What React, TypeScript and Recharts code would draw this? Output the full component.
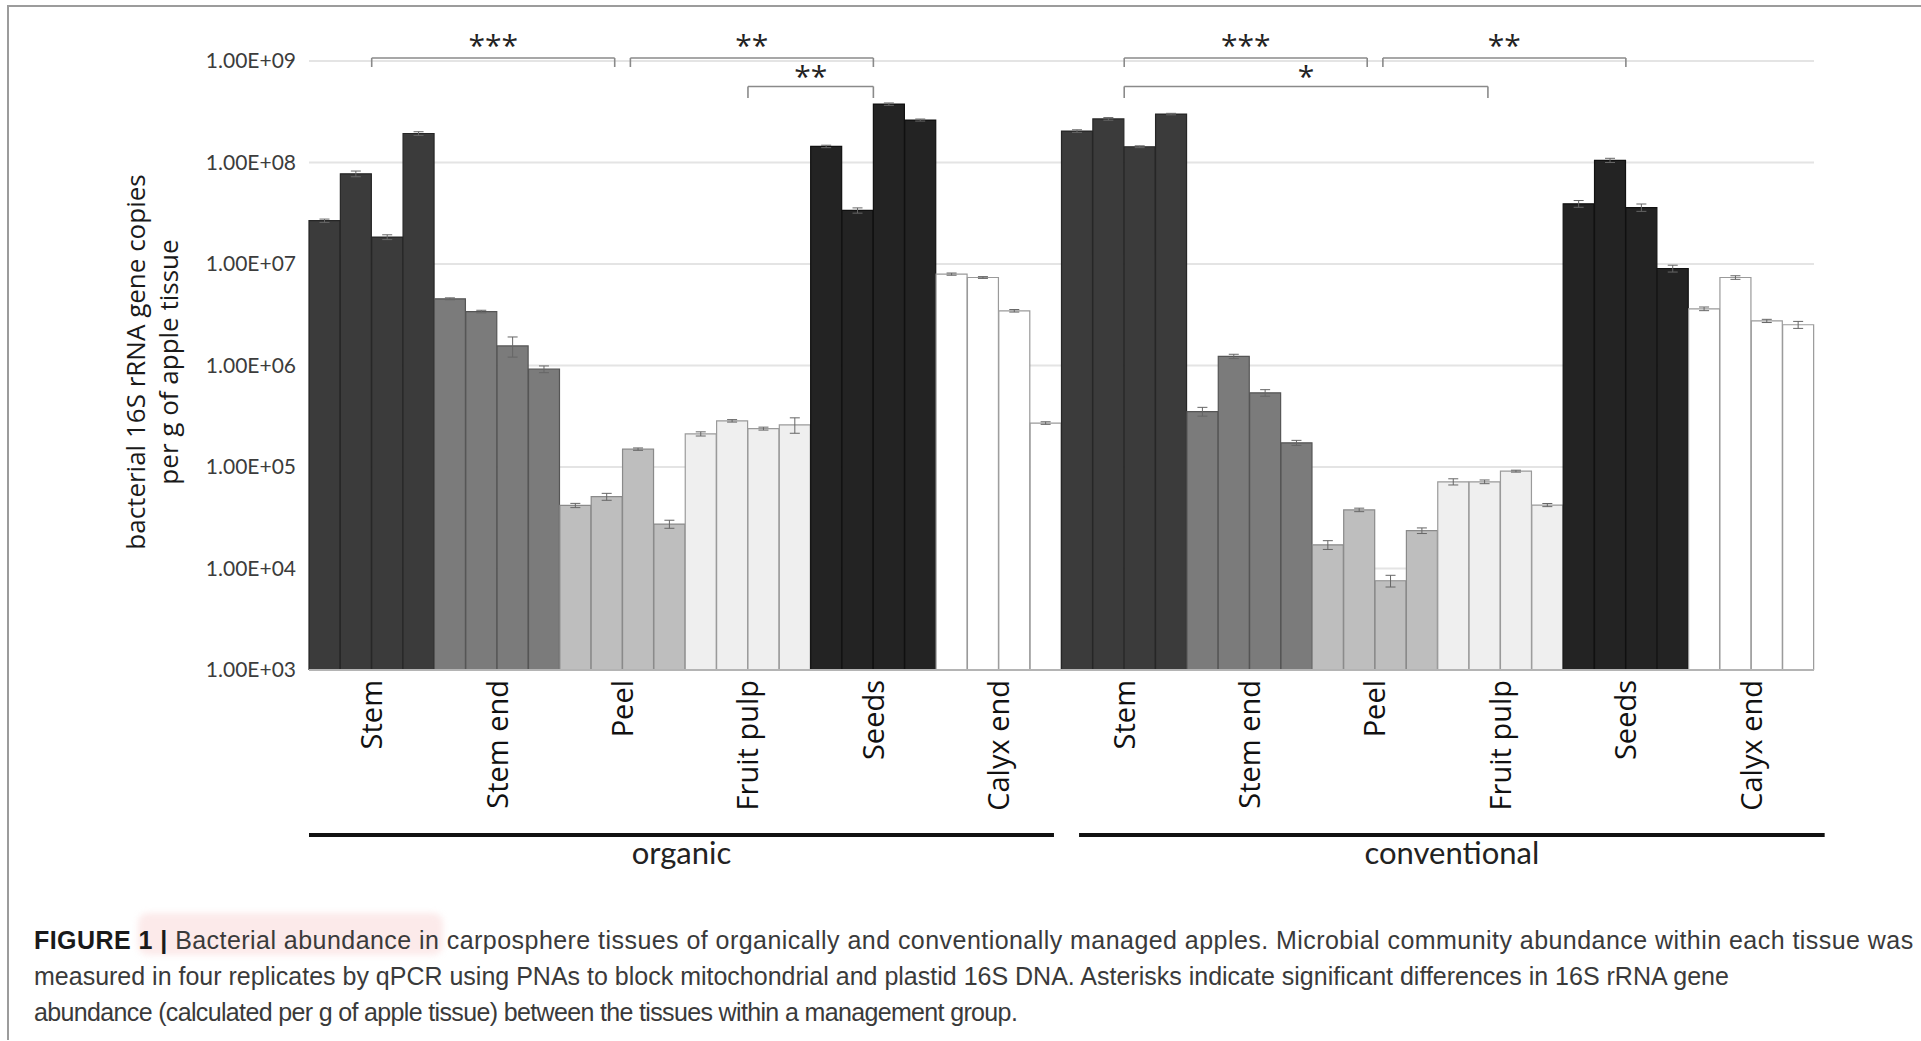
import React from 'react'
import { Bar, BarChart, CartesianGrid, Cell, ErrorBar, ReferenceLine, XAxis, YAxis } from 'recharts'

const tissues = ['Stem', 'Stem end', 'Peel', 'Fruit pulp', 'Seeds', 'Calyx end']
const groups = ['organic', 'conventional']

// 16S copies per g, four replicates per tissue (tissue order as above)
const organicCopies = [
  2.67e7, 7.74e7, 1.84e7, 1.93e8,
  4.54e6, 3.4e6, 1.56e6, 9.2e5,
  4.18e4, 5.1e4, 1.5e5, 2.74e4,
  2.12e5, 2.85e5, 2.39e5, 2.6e5,
  1.44e8, 3.37e7, 3.76e8, 2.62e8,
  7.95e6, 7.36e6, 3.46e6, 2.71e5,
]
const organicErr = [
  1e6, 5e6, 1e6, 8e6,
  1e5, 1e5, 3.5e5, 7e4,
  2e3, 4e3, 4e3, 2.5e3,
  1e4, 8e3, 8e3, 4.5e4,
  4e6, 2e6, 1e7, 6e6,
  2e5, 1.5e5, 1e5, 8e3,
]
const conventionalCopies = [
  2.04e8, 2.69e8, 1.43e8, 3.0e8,
  3.52e5, 1.23e6, 5.38e5, 1.73e5,
  1.71e4, 3.78e4, 7.57e3, 2.36e4,
  7.15e4, 7.15e4, 9.1e4, 4.22e4,
  3.92e7, 1.05e8, 3.6e7, 9.03e6,
  3.62e6, 7.36e6, 2.75e6, 2.52e6,
]
const conventionalErr = [
  6e6, 8e6, 3e6, 5e6,
  3.5e4, 6e4, 4e4, 1e4,
  1.7e3, 1.5e3, 1e3, 1.5e3,
  5e3, 3e3, 2e3, 1.5e3,
  3e6, 5e6, 3e6, 7e5,
  1.5e5, 3e5, 1e5, 2e5,
]

const yTicks = [1e3, 1e4, 1e5, 1e6, 1e7, 1e8, 1e9]

// significance brackets, x in bar units (4 bars per tissue, 24 per group)
const brackets = [
  { from: 2, to: 9.75, label: '***', level: 0 },
  { from: 10.25, to: 18, label: '**', level: 0 },
  { from: 14, to: 18, label: '**', level: 1 },
  { from: 26, to: 33.75, label: '***', level: 0 },
  { from: 34.25, to: 42, label: '**', level: 0 },
  { from: 26, to: 37.6, label: '*', level: 1 },
]
const groupSpans = [
  [0, 23.76],
  [24.56, 48.34],
]

const fills = ['#3b3b3b', '#7b7b7b', '#bebebe', '#efefef', '#232323', '#ffffff']
const strokes = ['#262626', '#555555', '#8a8a8a', '#9a9a9a', '#111111', '#9a9a9a']

const REPS = 4
const PER_GROUP = tissues.length * REPS
const BRACKET_Y = [1.07e9, 5.61e8]
const BRACKET_DROP = [8.73e8, 4.32e8]
const BRACKET_LABEL_OFFSET = [2, -1]
const GROUP_LINE_Y = 23.7

const data = [organicCopies, conventionalCopies].flatMap((vals, g) =>
  vals.map((v, i) => ({
    pos: g * PER_GROUP + i + 0.5,
    value: v,
    err: (g === 0 ? organicErr : conventionalErr)[i],
    tissue: Math.floor(i / REPS),
  }))
)

const tissueTicks = groups.flatMap((_, g) => tissues.map((_, t) => g * PER_GROUP + t * REPS + REPS / 2))

const sci = (v: number) => {
  const e = Math.round(Math.log10(v))
  return `${(v / Math.pow(10, e)).toFixed(2)}E+${String(e).padStart(2, '0')}`
}

function TissueTick(props: any) {
  const { x, y, payload } = props
  const name = tissues[Math.round((payload.value - REPS / 2) / REPS) % tissues.length]
  return (
    <text
      x={x}
      y={y}
      transform={`rotate(-90, ${x}, ${y})`}
      textAnchor="end"
      dy="0.36em"
      fontSize={29}
      fontFamily="'Open Sans', sans-serif"
      fill="#111"
    >
      {name}
    </text>
  )
}

function YTitle() {
  return (
    <text transform="rotate(-90)" textAnchor="middle" fontSize={26} fontFamily="'Open Sans', sans-serif" fill="#1a1a1a">
      <tspan x={-362} y={145}>bacterial 16S rRNA gene copies</tspan>
      <tspan x={-362} y={178}>per g of apple tissue</tspan>
    </text>
  )
}

export default function App() {
  return (
    <div
      style={{
        position: 'absolute',
        left: 0,
        top: 0,
        width: 1921,
        height: 1041,
        background: '#fff',
        overflow: 'hidden',
      }}
    >
      <div
        style={{
          position: 'absolute',
          left: 7,
          top: 5,
          width: 1914,
          height: 1033,
          borderTop: '2px solid #9c9c9c',
          borderLeft: '2px solid #9c9c9c',
        }}
      />
      <div style={{ position: 'absolute', left: 0, top: 0 }}>
        <BarChart
          width={1921}
          height={900}
          data={data}
          margin={{ top: 61, right: 107, bottom: 0, left: 209 }}
          barCategoryGap={0}
          barGap={0}
        >
          <CartesianGrid vertical={false} stroke="#e4e4e4" strokeWidth={2} />
          <XAxis
            dataKey="pos"
            type="number"
            domain={[0, 48]}
            ticks={tissueTicks}
            interval={0}
            tickLine={false}
            tickMargin={4}
            axisLine={{ stroke: '#b4b4b4', strokeWidth: 2 }}
            height={230}
            tick={(p: any) => <TissueTick {...p} />}
          />
          <YAxis
            scale="log"
            domain={[1e3, 1e9]}
            allowDataOverflow
            ticks={yTicks}
            width={100}
            axisLine={false}
            tickLine={false}
            tickMargin={7}
            tickFormatter={sci}
            tick={{ fontSize: 21, fill: '#3c3c3c', fontFamily: 'Lato, sans-serif' }}
            label={{ content: () => <YTitle /> }}
          />
          <Bar dataKey="value" isAnimationActive={false} strokeWidth={1.2}>
            {data.map((d, i) => (
              <Cell key={i} fill={fills[d.tissue]} stroke={strokes[d.tissue]} />
            ))}
            <ErrorBar dataKey="err" width={5} stroke="#666" strokeWidth={1} direction="y" />
          </Bar>
          {brackets.flatMap((b, i) => [
            <ReferenceLine
              key={`bh${i}`}
              ifOverflow="visible"
              stroke="#8a8a8a"
              strokeWidth={1.6}
              segment={[
                { x: b.from, y: BRACKET_Y[b.level] },
                { x: b.to, y: BRACKET_Y[b.level] },
              ]}
              label={{
                value: b.label,
                position: 'top',
                offset: BRACKET_LABEL_OFFSET[b.level],
                fontSize: 30,
                fill: '#222',
                fontFamily: "'Open Sans', sans-serif",
              }}
            />,
            <ReferenceLine
              key={`bl${i}`}
              ifOverflow="visible"
              stroke="#8a8a8a"
              strokeWidth={1.6}
              segment={[
                { x: b.from, y: BRACKET_Y[b.level] },
                { x: b.from, y: BRACKET_DROP[b.level] },
              ]}
            />,
            <ReferenceLine
              key={`br${i}`}
              ifOverflow="visible"
              stroke="#8a8a8a"
              strokeWidth={1.6}
              segment={[
                { x: b.to, y: BRACKET_Y[b.level] },
                { x: b.to, y: BRACKET_DROP[b.level] },
              ]}
            />,
          ])}
          {groupSpans.map((s, g) => (
            <ReferenceLine
              key={`g${g}`}
              ifOverflow="visible"
              stroke="#111"
              strokeWidth={4}
              segment={[
                { x: s[0], y: GROUP_LINE_Y },
                { x: s[1], y: GROUP_LINE_Y },
              ]}
              label={{
                value: groups[g],
                position: 'bottom',
                offset: 7,
                fontSize: 31,
                fill: '#222',
                fontFamily: 'Lato, sans-serif',
              }}
            />
          ))}
        </BarChart>
      </div>
      <div
        style={{
          position: 'absolute',
          left: 138,
          top: 913,
          width: 305,
          height: 42,
          background: 'rgba(244, 170, 170, 0.25)',
          borderRadius: 10,
          filter: 'blur(3px)',
        }}
      />
      <div
        style={{
          position: 'absolute',
          left: 34,
          top: 922,
          fontFamily: "'Liberation Sans', Arial, sans-serif",
          fontSize: 25,
          lineHeight: '36px',
          color: '#3a3a3a',
          whiteSpace: 'nowrap',
        }}
      >
        <div style={{ letterSpacing: 0.45 }}>
          <b style={{ color: '#1a1a1a' }}>FIGURE 1 |</b> Bacterial abundance in carposphere tissues of organically and
          conventionally managed apples. Microbial community abundance within each tissue was
        </div>
        <div>
          measured in four replicates by qPCR using PNAs to block mitochondrial and plastid 16S DNA. Asterisks indicate
          significant differences in 16S rRNA gene
        </div>
        <div style={{ letterSpacing: -0.65 }}>
          abundance (calculated per g of apple tissue) between the tissues within a management group.
        </div>
      </div>
    </div>
  )
}
